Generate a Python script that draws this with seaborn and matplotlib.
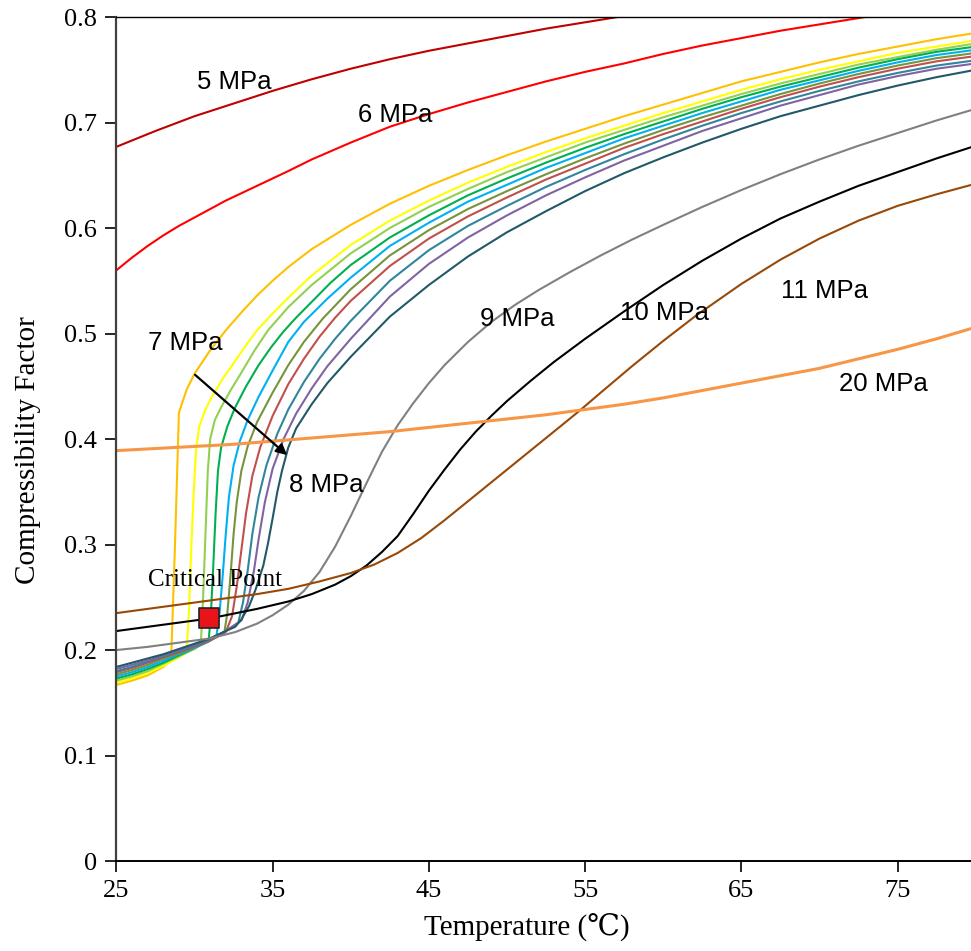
import pandas as pd
import seaborn as sns
import matplotlib
matplotlib.use("Agg")
import matplotlib.pyplot as plt

# values: temperature (C) and compressibility factor
t_5 = [25, 27.5, 30, 32.5, 35, 37.5, 40, 42.5, 45, 47.5, 50, 52.5, 55, 57.5, 60]
z_5 = [0.677, 0.692, 0.706, 0.718, 0.730, 0.741, 0.751, 0.760, 0.768, 0.775, 0.782, 0.789, 0.795, 0.801, 0.807]

t_6 = [25, 26, 27, 28, 29, 30, 31, 32, 33, 34, 35, 36, 37.5, 40, 42.5, 45, 47.5, 50, 52.5, 55, 57.5, 60,
       62.5, 65, 67.5, 70, 72.5, 75]
z_6 = [0.560, 0.572, 0.583, 0.593, 0.602, 0.610, 0.618, 0.626, 0.633, 0.640, 0.647, 0.654, 0.665, 0.681,
       0.696, 0.708, 0.719, 0.729, 0.739, 0.748, 0.756, 0.765, 0.773, 0.780, 0.787, 0.793, 0.799, 0.805]

# the bundle between 7 and 8 MPa
t_p0 = [25, 26, 27, 28, 28.5, 28.75, 29.0, 29.5, 30, 31, 32, 33, 34, 35, 36, 37.5, 40, 42.5, 45, 47.5, 50,
        52.5, 55, 57.5, 60, 62.5, 65, 67.5, 70, 72.5, 75, 77.5, 80]
z_p0 = [0.167, 0.171, 0.176, 0.184, 0.191, 0.30, 0.425, 0.447, 0.462, 0.484, 0.503, 0.520, 0.536, 0.550,
        0.563, 0.580, 0.603, 0.623, 0.640, 0.655, 0.669, 0.682, 0.694, 0.706, 0.717, 0.728, 0.739, 0.748,
        0.757, 0.765, 0.772, 0.779, 0.785]

t_p1 = [25, 26, 27, 28, 29, 29.5, 29.65, 29.8, 29.95, 30.1, 30.3, 30.7, 31.1, 31.8, 32.6, 33.3, 34, 35, 36,
        37.5, 40, 42.5, 45, 47.5, 50, 52.5, 55, 57.5, 60, 62.5, 65, 67.5, 70, 72.5, 75, 77.5, 80]
z_p1 = [0.169, 0.173, 0.178, 0.185, 0.193, 0.198, 0.24, 0.30, 0.35, 0.39, 0.412, 0.428, 0.440, 0.457,
        0.474, 0.489, 0.503, 0.519, 0.534, 0.555, 0.584, 0.607, 0.626, 0.643, 0.658, 0.672, 0.685, 0.697,
        0.709, 0.720, 0.731, 0.741, 0.750, 0.758, 0.766, 0.772, 0.778]

t_p2 = [25, 26, 27, 28, 29, 30, 30.4, 30.55, 30.7, 30.85, 31.0, 31.3, 31.7, 32.3, 33.0, 33.8, 34.7, 36,
        37.5, 40, 42.5, 45, 47.5, 50, 52.5, 55, 57.5, 60, 62.5, 65, 67.5, 70, 72.5, 75, 77.5, 80]
z_p2 = [0.171, 0.175, 0.180, 0.187, 0.194, 0.201, 0.205, 0.25, 0.31, 0.37, 0.400, 0.418, 0.430, 0.446,
        0.463, 0.483, 0.503, 0.525, 0.546, 0.576, 0.600, 0.620, 0.637, 0.653, 0.667, 0.681, 0.693, 0.705,
        0.716, 0.727, 0.737, 0.746, 0.755, 0.762, 0.769, 0.775]

t_p3 = [25, 26, 27, 28, 29, 30, 30.9, 31.05, 31.2, 31.35, 31.5, 31.7, 32.1, 32.6, 33.3, 34.1, 34.9, 35.7,
        36.5, 37.5, 38.7, 40, 42.5, 45, 47.5, 50, 52.5, 55, 57.5, 60, 62.5, 65, 67.5, 70, 72.5, 75, 77.5, 80]
z_p3 = [0.173, 0.177, 0.182, 0.188, 0.195, 0.202, 0.208, 0.235, 0.28, 0.33, 0.37, 0.392, 0.412, 0.430,
        0.450, 0.470, 0.487, 0.502, 0.515, 0.530, 0.548, 0.565, 0.591, 0.612, 0.631, 0.647, 0.662, 0.676,
        0.689, 0.701, 0.713, 0.724, 0.734, 0.743, 0.752, 0.760, 0.767, 0.772]

t_p4 = [25, 26, 27, 28, 29, 30, 31, 31.4, 31.6, 31.8, 32.0, 32.2, 32.5, 32.9, 33.4, 34.1, 35, 36, 37, 38.5,
        40, 42.5, 45, 47.5, 50, 52.5, 55, 57.5, 60, 62.5, 65, 67.5, 70, 72.5, 75, 77.5, 80]
z_p4 = [0.175, 0.179, 0.184, 0.190, 0.196, 0.202, 0.209, 0.213, 0.235, 0.27, 0.31, 0.345, 0.375, 0.398,
        0.418, 0.440, 0.465, 0.492, 0.511, 0.533, 0.553, 0.583, 0.605, 0.625, 0.641, 0.657, 0.671, 0.685,
        0.697, 0.709, 0.720, 0.731, 0.740, 0.749, 0.757, 0.764, 0.769]

t_p5 = [25, 26, 27, 28, 29, 30, 31, 31.9, 32.1, 32.3, 32.5, 32.7, 33.0, 33.4, 34, 35, 36, 37, 38.2, 40,
        42.5, 45, 47.5, 50, 52.5, 55, 57.5, 60, 62.5, 65, 67.5, 70, 72.5, 75, 77.5, 80]
z_p5 = [0.177, 0.181, 0.186, 0.192, 0.197, 0.203, 0.209, 0.216, 0.235, 0.27, 0.31, 0.34, 0.37, 0.393,
        0.416, 0.444, 0.470, 0.492, 0.514, 0.542, 0.574, 0.598, 0.618, 0.635, 0.651, 0.666, 0.680, 0.693,
        0.705, 0.716, 0.727, 0.737, 0.746, 0.754, 0.761, 0.766]

t_p6 = [25, 26, 27, 28, 29, 30, 31, 32, 32.4, 32.7, 33.0, 33.3, 33.7, 34.2, 35, 36, 37, 38, 39, 40, 42.5,
        45, 47.5, 50, 52.5, 55, 57.5, 60, 62.5, 65, 67.5, 70, 72.5, 75, 77.5, 80]
z_p6 = [0.179, 0.183, 0.188, 0.193, 0.198, 0.203, 0.209, 0.217, 0.232, 0.26, 0.295, 0.33, 0.365, 0.392,
        0.422, 0.452, 0.476, 0.497, 0.515, 0.531, 0.564, 0.590, 0.611, 0.629, 0.646, 0.661, 0.676, 0.689,
        0.701, 0.713, 0.724, 0.734, 0.743, 0.751, 0.758, 0.763]

t_p7 = [25, 26, 27, 28, 29, 30, 31, 32, 32.8, 33.1, 33.4, 33.7, 34.1, 34.6, 35.3, 36, 37, 38, 39, 40, 42.5,
        45, 47.5, 50, 52.5, 55, 57.5, 60, 62.5, 65, 67.5, 70, 72.5, 75, 77.5, 80]
z_p7 = [0.180, 0.184, 0.189, 0.194, 0.199, 0.204, 0.210, 0.218, 0.226, 0.245, 0.275, 0.31, 0.345, 0.375,
        0.405, 0.428, 0.454, 0.476, 0.495, 0.512, 0.550, 0.579, 0.602, 0.621, 0.639, 0.655, 0.670, 0.684,
        0.697, 0.709, 0.720, 0.730, 0.739, 0.747, 0.754, 0.759]

t_p8 = [25, 26, 27, 28, 29, 30, 31, 32, 33, 33.4, 33.8, 34.1, 34.5, 35, 35.7, 36.5, 37.5, 38.5, 40, 42.5,
        45, 47.5, 50, 52.5, 55, 57.5, 60, 62.5, 65, 67.5, 70, 72.5, 75, 77.5, 80]
z_p8 = [0.182, 0.186, 0.190, 0.195, 0.200, 0.205, 0.211, 0.218, 0.228, 0.245, 0.275, 0.305, 0.34, 0.372,
        0.400, 0.424, 0.448, 0.469, 0.495, 0.535, 0.566, 0.591, 0.612, 0.631, 0.648, 0.664, 0.678, 0.692,
        0.704, 0.716, 0.726, 0.736, 0.744, 0.751, 0.756]

t_p9 = [25, 26, 27, 28, 29, 30, 31, 32, 32.6, 33, 33.5, 33.9, 34.4, 34.7, 35.0, 35.3, 35.6, 36, 36.5, 37.5,
        38.5, 40, 42.5, 45, 47.5, 50, 52.5, 55, 57.5, 60, 62.5, 65, 67.5, 70, 72.5, 75, 77.5, 80]
z_p9 = [0.184, 0.188, 0.192, 0.196, 0.201, 0.206, 0.211, 0.218, 0.222, 0.229, 0.242, 0.257, 0.28, 0.301,
        0.325, 0.35, 0.370, 0.392, 0.410, 0.433, 0.453, 0.478, 0.516, 0.546, 0.573, 0.596, 0.616, 0.635,
        0.652, 0.667, 0.681, 0.694, 0.706, 0.716, 0.726, 0.735, 0.743, 0.750]

t_9 = [25, 27, 29, 31, 32.6, 34, 35, 36, 37, 38, 39, 40, 41, 42, 43, 44, 45, 46, 47.5, 49, 50.5, 52, 54,
       56, 58, 60, 62.5, 65, 67.5, 70, 72.5, 75, 77.5, 80]
z_9 = [0.200, 0.203, 0.207, 0.211, 0.217, 0.225, 0.233, 0.243, 0.256, 0.274, 0.298, 0.327, 0.358, 0.388,
       0.413, 0.434, 0.453, 0.470, 0.492, 0.511, 0.527, 0.541, 0.558, 0.574, 0.589, 0.603, 0.620, 0.636,
       0.651, 0.665, 0.678, 0.690, 0.702, 0.713]

t_10 = [25, 28, 31, 34, 36, 37.5, 39, 40, 41, 42, 43, 44, 45, 46, 47, 48, 49, 50, 51.5, 53, 55, 57.5, 60,
        62.5, 65, 67.5, 70, 72.5, 75, 77.5, 80]
z_10 = [0.218, 0.224, 0.230, 0.239, 0.246, 0.253, 0.262, 0.270, 0.280, 0.293, 0.308, 0.329, 0.351, 0.371,
        0.390, 0.407, 0.422, 0.436, 0.455, 0.473, 0.495, 0.521, 0.546, 0.569, 0.590, 0.609, 0.625, 0.640,
        0.653, 0.666, 0.678]

t_11 = [25, 28, 31, 34, 36, 38, 40, 41.5, 43, 44.5, 46, 47.5, 49, 50.5, 52, 53.5, 54.7, 56, 58, 60, 62.1,
        65, 67.5, 70, 72.5, 75, 77.5, 80]
z_11 = [0.235, 0.241, 0.247, 0.253, 0.258, 0.265, 0.273, 0.281, 0.292, 0.306, 0.323, 0.341, 0.359, 0.377,
        0.395, 0.413, 0.4275, 0.444, 0.469, 0.493, 0.517, 0.547, 0.570, 0.590, 0.607, 0.621, 0.632, 0.642]

t_20 = [25, 27.5, 30, 32.5, 35, 37.5, 40, 42.5, 45, 47.5, 50, 52.5, 55, 57.5, 60, 62.5, 65, 67.5, 70, 72.5,
        75, 77.5, 80]
z_20 = [0.389, 0.391, 0.393, 0.395, 0.398, 0.401, 0.404, 0.407, 0.411, 0.415, 0.419, 0.423, 0.428, 0.433,
        0.439, 0.446, 0.453, 0.460, 0.467, 0.476, 0.485, 0.495, 0.506]

crit_t = [30.92]
crit_z = [0.230]

x_ticks = [25, 35, 45, 55, 65, 75]
y_ticks = [0, 0.1, 0.2, 0.3, 0.4, 0.5, 0.6, 0.7, 0.8]

series = [
    ("5 MPa", t_5, z_5, "#C00000", 1.5),
    ("6 MPa", t_6, z_6, "#FF0000", 1.5),
    ("p0", t_p0, z_p0, "#FFC000", 1.5),
    ("p1", t_p1, z_p1, "#FFFF00", 1.5),
    ("p2", t_p2, z_p2, "#92D050", 1.5),
    ("p3", t_p3, z_p3, "#00B050", 1.5),
    ("p4", t_p4, z_p4, "#00B0F0", 1.5),
    ("p5", t_p5, z_p5, "#77933C", 1.5),
    ("p6", t_p6, z_p6, "#C0504D", 1.5),
    ("p7", t_p7, z_p7, "#31859C", 1.5),
    ("p8", t_p8, z_p8, "#8064A2", 1.5),
    ("p9", t_p9, z_p9, "#215968", 1.5),
    ("9 MPa", t_9, z_9, "#808080", 1.5),
    ("10 MPa", t_10, z_10, "#000000", 1.5),
    ("11 MPa", t_11, z_11, "#984807", 1.5),
    ("20 MPa", t_20, z_20, "#F79646", 2.2),
]

df = pd.concat([pd.DataFrame({"T": t, "Z": z, "series": name}) for name, t, z, _, _ in series])

sns.set_style("white")
plt.rcParams["font.family"] = ["Liberation Serif", "DejaVu Serif", "DejaVu Sans"]
plt.rcParams["text.color"] = "black"
plt.rcParams["axes.labelcolor"] = "black"
plt.rcParams["xtick.color"] = "black"
plt.rcParams["ytick.color"] = "black"

fig = plt.figure(figsize=(9.71, 9.51), dpi=100)
ax = fig.add_axes([0.1199, 0.0946, 0.8801, 0.8875])

for name, _, _, color, lw in series:
    sns.lineplot(data=df[df["series"] == name], x="T", y="Z", color=color, linewidth=lw,
                 estimator=None, sort=False, legend=False, ax=ax)

sns.scatterplot(x=crit_t, y=crit_z, marker="s", s=210, color="#E8141A", edgecolor="#222222",
                linewidth=1.2, zorder=6, legend=False, ax=ax)

ax.set_xlim(25, 79.7)
ax.set_ylim(0, 0.8)
ax.set_xticks(x_ticks)
ax.set_yticks(y_ticks)
ax.set_yticklabels(["0" if v == 0 else f"{v:.1f}" for v in y_ticks])
ax.tick_params(axis="both", direction="out", length=8, width=1.2, labelsize=19, pad=6,
               left=True, bottom=True, colors="black")

ax.spines["left"].set_color("#404040")
ax.spines["left"].set_linewidth(1.6)
ax.spines["bottom"].set_color("black")
ax.spines["bottom"].set_linewidth(1.4)
ax.spines["top"].set_color("black")
ax.spines["top"].set_linewidth(1.0)
ax.spines["right"].set_visible(False)

ax.set_xlabel("Temperature (\u2103)", fontsize=21)
ax.set_ylabel("Compressibility Factor", fontsize=21)
ax.xaxis.set_label_coords(0.48, -0.062)
ax.yaxis.set_label_coords(-0.088, 0.487)

sans = ["Liberation Sans", "DejaVu Sans"]
labels = [("5 MPa", 32.56, 0.738), ("6 MPa", 42.86, 0.707), ("7 MPa", 29.42, 0.491),
          ("8 MPa", 38.44, 0.356), ("9 MPa", 50.66, 0.514), ("10 MPa", 60.1, 0.519),
          ("11 MPa", 70.34, 0.540), ("20 MPa", 74.08, 0.452)]
for text, x, y in labels:
    ax.text(x, y, text, fontsize=18.5, family=sans, color="black", ha="center", va="center", zorder=7)

ax.text(31.31, 0.266, "Critical Point", fontsize=18, color="black", ha="center", va="center", zorder=7)

ax.annotate("", xy=(36.06, 0.383), xytext=(29.9, 0.4626),
            arrowprops=dict(arrowstyle="-|>", color="black", lw=1.6, mutation_scale=16))

fig.savefig("out.png", dpi=100)
